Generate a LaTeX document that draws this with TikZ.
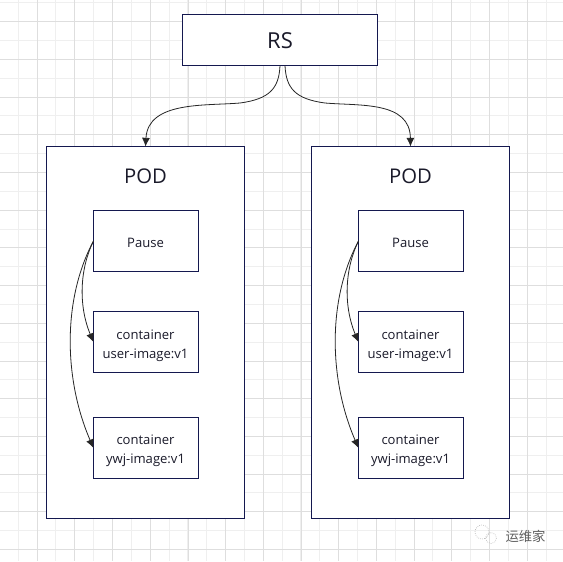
\documentclass[tikz,border=0pt]{standalone}
\usepackage{fontspec}
\setmainfont{Open Sans}
\newfontfamily\cjk{Noto Sans CJK SC}
\usetikzlibrary{arrows.meta,calc}
\definecolor{navyline}{HTML}{14184F}
\definecolor{gridmajor}{HTML}{DEDEDE}
\definecolor{gridminor}{HTML}{EFEFEF}
\definecolor{inktext}{HTML}{1A1A2A}
\tikzset{
  x=0.75pt,y=-0.75pt,
  box/.style={draw=navyline,line width=0.75pt,outer sep=0pt,fill=white,inner sep=0pt},
  label/.style={text=inktext,inner sep=0pt,align=center,font=\fontsize{9.8pt}{14.2pt}\selectfont},
  innerbox/.style={box,minimum width=78.75pt,minimum height=45.75pt},
  link/.style={draw=black!85,line width=0.6pt,-{Latex[length=6.5pt,width=6pt]}},
}
\newcommand{\podset}[2]{%
  \begin{scope}[shift={(#1,0)}]
  \node[box,minimum width=148.5pt,minimum height=279pt] (pod#2) at (145.5,332.5) {};
  \node[label,font=\fontsize{15.2pt}{18pt}\selectfont] (podt#2) at (145.5,176) {POD};
  \node[innerbox] (pause#2) at (146,241) {};
  \node[innerbox] (user#2) at (146,342) {};
  \node[innerbox] (ywj#2) at (146,448) {};
  \node[label] (pauset#2) at (145.5,242.5) {Pause};
  \node[label] (usert#2) at (145.5,345.5) {container\\user-image:v1};
  \node[label] (ywjt#2) at (145.5,451) {container\\ywj-image:v1};
  \draw[link] (pause#2.west) .. controls (80,268) and (78,305) .. (user#2.west);
  \draw[link] (pause#2.west) .. controls (62,300) and (64,380) .. (ywj#2.west);
  \end{scope}}
\begin{document}
\begin{tikzpicture}
\useasboundingbox (0,0) rectangle (563,561);
\fill[white] (0,0) rectangle (563,561);
\foreach \i in {0,...,29}{
  \draw[gridminor,line width=0.75pt] ({-0.65+18.85*\i},0) -- ({-0.65+18.85*\i},561);
  \draw[gridminor,line width=0.75pt] (0,{2.85+18.85*\i}) -- (563,{2.85+18.85*\i});
}
\foreach \i in {0,...,14}{
  \draw[gridmajor,line width=0.75pt] ({-0.5+37.7*\i},0) -- ({-0.5+37.7*\i},561);
  \draw[gridmajor,line width=0.75pt] (0,{21.7+37.7*\i}) -- (563,{21.7+37.7*\i});
}
\node[box,minimum width=146.25pt,minimum height=38.25pt] (rs) at (280,40) {};
\node[label,font=\fontsize{16.5pt}{20pt}\selectfont] (rst) at (280,40.5) {RS};
\podset{0}{a}
\podset{265}{b}
\coordinate (rsr) at ($(rs.south)+(5,0)$);
\draw[link] (rs.south) .. controls (279,88) and (270,99) .. (240,103) .. controls (205,106) and (148,101) .. (podta.north |- poda.north);
\draw[link] (rsr) .. controls (286,88) and (295,99) .. (325,103) .. controls (360,106) and (410,101) .. (podtb.north |- podb.north);
% watermark
\draw[gray!55,line width=0.5pt,densely dotted] (482,532) circle[radius=7];
\draw[gray!55,line width=0.5pt,densely dotted] (491,538) circle[radius=5.5];
\node[text=gray!75!black,font=\cjk\fontsize{10pt}{12pt}\selectfont,inner sep=0pt] (wm) at (525.5,536) {运维家};
\end{tikzpicture}
\end{document}
